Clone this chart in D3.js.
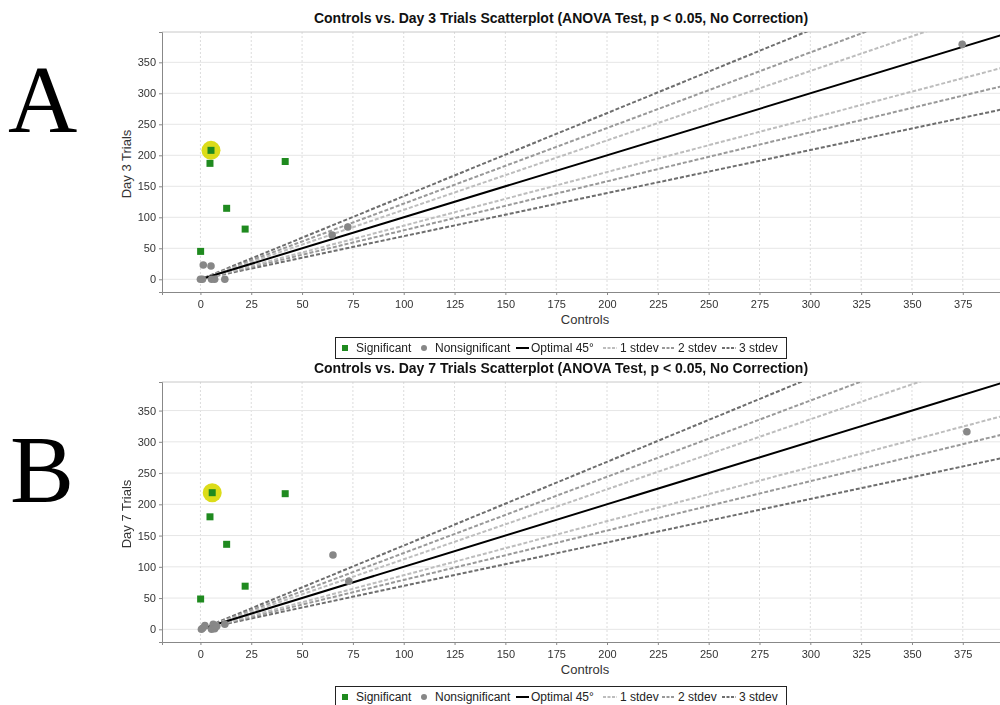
<!DOCTYPE html>
<html lang="en">
<head>
<meta charset="utf-8">
<title>Controls vs. Day 3 / Day 7 Trials</title>
<script src="https://cdnjs.cloudflare.com/ajax/libs/d3/7.8.5/d3.min.js"></script>
<style>
  body { margin: 0; background: #fff; }
  svg { display: block; font-family: "Liberation Sans", Arial, sans-serif; }
  .axis { filter: grayscale(100%); }
</style>
</head>
<body>
<div id="chart"></div>
<script>
// Panel A: Controls vs Day 3 (x, y)
var day3Significant = [[5.2, 208], [4.7, 187], [41.7, 190], [12.9, 114.5], [22, 81], [0.1, 45]];
var day3Nonsignificant = [[1.4, 23], [5.2, 21.5], [0, 0], [1, 0], [5.5, 0], [7, 0], [12, 0], [64.8, 71.5], [72.5, 84.4], [374.7, 379]];
var day3Highlight = [5.2, 208];

// Panel B: Controls vs Day 7 (x, y)
var day7Significant = [[5.8, 218.6], [4.7, 180], [41.7, 217], [12.9, 136], [22, 69], [0.1, 48.5]];
var day7Nonsignificant = [[0.5, 0], [2.2, 6], [1.2, 2], [6.3, 8], [5.5, 0], [7, 1], [8, 5], [12, 8], [65.2, 119], [73, 77], [377, 316]];
var day7Highlight = [5.8, 218.6];

// reference lines: slope of each line through the origin region
var lineNames = ["Optimal 45°", "1 stdev", "2 stdev", "3 stdev"];
var upperSlopes = [1, 1.12, 1.22, 1.34];
var lowerSlopes = [1, 0.865, 0.79, 0.695];

var xTicks = [0, 25, 50, 75, 100, 125, 150, 175, 200, 225, 250, 275, 300, 325, 350, 375];
var yTicks = [0, 50, 100, 150, 200, 250, 300, 350];

var lineColors = ["#000000", "#bdbdbd", "#999999", "#6e6e6e"];

var svg = d3.select("#chart").append("svg")
    .attr("width", 1000)
    .attr("height", 705);

// big panel letters
svg.append("text").attr("x", 8).attr("y", 132)
    .attr("font-family", "'Liberation Serif', 'DejaVu Serif', serif")
    .attr("font-size", 96).text("A");
svg.append("text").attr("x", 10).attr("y", 502)
    .attr("font-family", "'Liberation Serif', 'DejaVu Serif', serif")
    .attr("font-size", 96).text("B");

function drawPanel(opts) {
    var left = 162, right = 1000;
    var top = opts.top, bottom = opts.bottom;

    var xScale = d3.scaleLinear().domain([-18.9, 393.3]).range([left, right]);
    var yScale = d3.scaleLinear().domain(opts.yDomain).range([bottom, top]);

    var g = svg.append("g");

    // title
    g.append("text")
        .attr("x", 561).attr("y", top - 9)
        .attr("text-anchor", "middle")
        .attr("font-size", 14).attr("font-weight", "bold")
        .attr("fill", "#111")
        .text(opts.title);

    // clip for the lines
    var clipId = "clip" + opts.id;
    g.append("clipPath").attr("id", clipId)
        .append("rect")
        .attr("x", left).attr("y", top)
        .attr("width", right - left).attr("height", bottom - top);

    // gridlines
    g.selectAll(".vgrid").data(xTicks).enter().append("line")
        .attr("x1", function(d){ return xScale(d); })
        .attr("x2", function(d){ return xScale(d); })
        .attr("y1", top).attr("y2", bottom)
        .attr("stroke", "#dcdcdc").attr("stroke-dasharray", "2,2");
    g.selectAll(".hgrid").data(yTicks).enter().append("line")
        .attr("y1", function(d){ return yScale(d); })
        .attr("y2", function(d){ return yScale(d); })
        .attr("x1", left).attr("x2", right)
        .attr("stroke", "#e6e6e6");

    // border top
    g.append("line").attr("x1", left).attr("x2", right).attr("y1", top).attr("y2", top)
        .attr("stroke", "#c8c8c8");

    // axes
    var yAxis = d3.axisLeft(yScale).tickValues(yTicks).tickSize(3).tickPadding(3);
    var xAxis = d3.axisBottom(xScale).tickValues(xTicks).tickSize(3).tickPadding(5);

    var ya = g.append("g").attr("class", "axis").attr("transform", "translate(" + left + ",0)").call(yAxis);
    var xa = g.append("g").attr("class", "axis").attr("transform", "translate(0," + bottom + ")").call(xAxis);
    [ya, xa].forEach(function(a){
        a.select(".domain").attr("stroke", "#888");
        a.selectAll(".tick line").attr("stroke", "#888");
        a.selectAll("text").attr("font-size", 11).attr("fill", "#333")
            .attr("font-family", "'Liberation Sans', Arial, sans-serif");
    });

    // axis titles
    g.append("text")
        .attr("x", 585).attr("y", bottom + 32)
        .attr("text-anchor", "middle").attr("font-size", 13).attr("fill", "#333")
        .text("Controls");
    g.append("text")
        .attr("transform", "translate(131," + ((top + bottom) / 2 + 2) + ") rotate(-90)")
        .attr("text-anchor", "middle").attr("font-size", 13).attr("fill", "#333")
        .text(opts.yLabel);

    // reference lines (drawn in order 3,2,1 stdev then optimal on top)
    var lines = g.append("g").attr("clip-path", "url(#" + clipId + ")");
    var startX = 2;
    var refLines = [];
    for (var i = 3; i >= 1; i--) {
        refLines.push({slope: upperSlopes[i], k: i});
        refLines.push({slope: lowerSlopes[i], k: i});
    }
    refLines.push({slope: 1, k: 0});
    lines.selectAll("line.ref").data(refLines).enter().append("line")
        .attr("x1", xScale(startX))
        .attr("y1", function(d){ return yScale(startX * d.slope); })
        .attr("x2", xScale(420))
        .attr("y2", function(d){ return yScale(420 * d.slope); })
        .attr("stroke", function(d){ return lineColors[d.k]; })
        .attr("stroke-width", 2)
        .attr("stroke-dasharray", function(d){ return d.k === 0 ? null : "4,2"; });

    // highlight
    g.append("circle")
        .attr("cx", xScale(opts.highlight[0])).attr("cy", yScale(opts.highlight[1]))
        .attr("r", 9.5).attr("fill", "#d8d800").attr("opacity", 0.9);

    // nonsignificant points
    g.selectAll(".ns").data(opts.nonsig).enter().append("circle")
        .attr("cx", function(d){ return xScale(d[0]); })
        .attr("cy", function(d){ return yScale(d[1]); })
        .attr("r", 3.8).attr("fill", "#878787");

    // significant points
    g.selectAll(".sig").data(opts.sig).enter().append("rect")
        .attr("x", function(d){ return xScale(d[0]) - 3.5; })
        .attr("y", function(d){ return yScale(d[1]) - 3.5; })
        .attr("width", 7).attr("height", 7).attr("fill", "#1f8a1f");

    // legend
    var ly = opts.legendTop;
    var leg = g.append("g");
    leg.append("rect").attr("x", 335.5).attr("y", ly + 0.5)
        .attr("width", 451).attr("height", 21)
        .attr("fill", "#fff").attr("stroke", "#222");
    var cy = ly + 11;
    leg.append("rect").attr("x", 342).attr("y", cy - 3).attr("width", 6).attr("height", 6).attr("fill", "#1f8a1f");
    leg.append("text").attr("x", 356).attr("y", cy + 4).attr("font-size", 12).attr("fill", "#222").text("Significant");
    leg.append("circle").attr("cx", 424).attr("cy", cy).attr("r", 3).attr("fill", "#878787");
    leg.append("text").attr("x", 435).attr("y", cy + 4).attr("font-size", 12).attr("fill", "#222").text("Nonsignificant");
    var items = [
        {x: 516, w: 13, tx: 531, k: 0},
        {x: 603, w: 14, tx: 620, k: 1},
        {x: 662, w: 13, tx: 678, k: 2},
        {x: 722, w: 14, tx: 739, k: 3}
    ];
    items.forEach(function(it){
        leg.append("line").attr("x1", it.x).attr("x2", it.x + it.w)
            .attr("y1", cy).attr("y2", cy)
            .attr("stroke", lineColors[it.k]).attr("stroke-width", 2)
            .attr("stroke-dasharray", it.k === 0 ? null : "3,1.5");
        leg.append("text").attr("x", it.tx).attr("y", cy + 4).attr("font-size", 12).attr("fill", "#222")
            .text(lineNames[it.k]);
    });
}

drawPanel({
    id: "A", top: 32, bottom: 292, yDomain: [-20.5, 398.9],
    title: "Controls vs. Day 3 Trials Scatterplot (ANOVA Test, p < 0.05, No Correction)",
    yLabel: "Day 3 Trials",
    sig: day3Significant, nonsig: day3Nonsignificant, highlight: day3Highlight,
    legendTop: 337
});

drawPanel({
    id: "B", top: 382, bottom: 642, yDomain: [-20.3, 395.7],
    title: "Controls vs. Day 7 Trials Scatterplot (ANOVA Test, p < 0.05, No Correction)",
    yLabel: "Day 7 Trials",
    sig: day7Significant, nonsig: day7Nonsignificant, highlight: day7Highlight,
    legendTop: 686
});
</script>
</body>
</html>
